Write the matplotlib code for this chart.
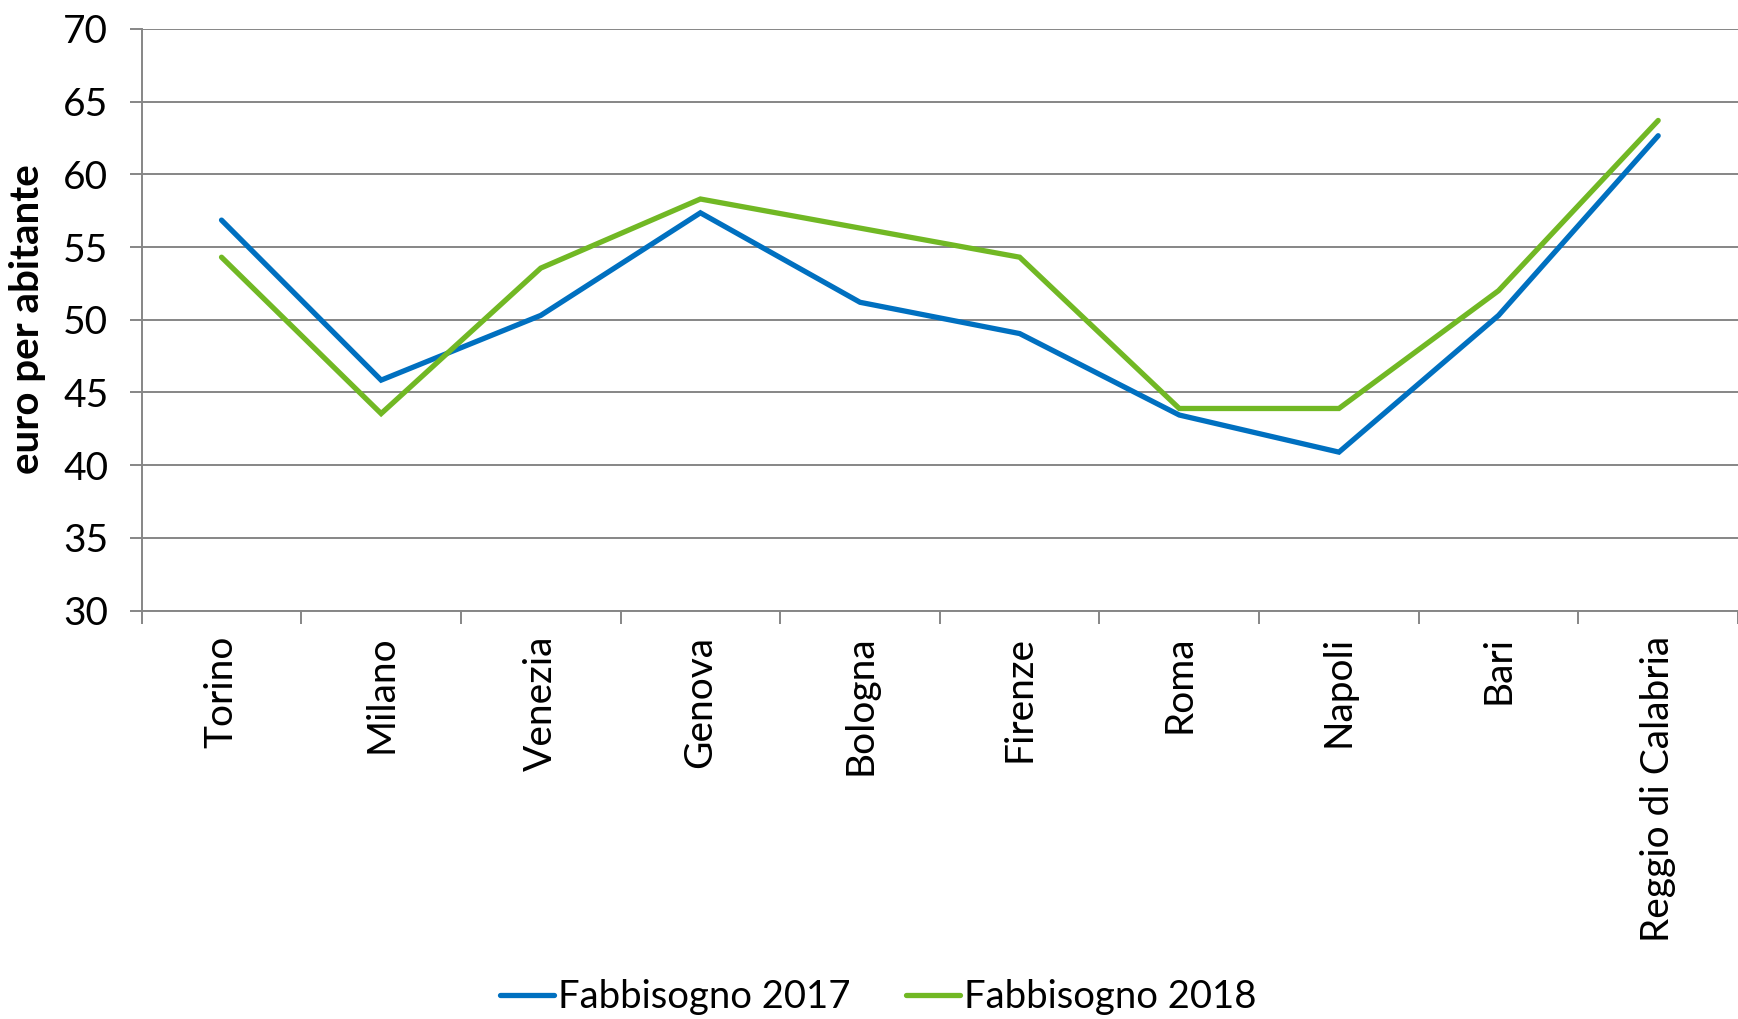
import matplotlib
matplotlib.use("Agg")
import matplotlib.pyplot as plt
import numpy as np

categories = ["Torino", "Milano", "Venezia", "Genova", "Bologna", "Firenze",
              "Roma", "Napoli", "Bari", "Reggio di Calabria"]
fabb_2017 = [56.85, 45.85, 50.3, 57.35, 51.2, 49.05, 43.45, 40.9, 50.3, 62.65]
fabb_2018 = [54.3, 43.55, 53.55, 58.3, 56.3, 54.3, 43.9, 43.9, 52.0, 63.7]
y_ticks = [30, 35, 40, 45, 50, 55, 60, 65, 70]

plt.rcParams['font.family'] = ['Lato', 'DejaVu Sans']

W, H = 1738, 1019
fig = plt.figure(figsize=(W / 100, H / 100), dpi=100)
left, right = 141.7 / W, 1.0
bottom, top = 1 - 610.7 / H, 1 - 28.8 / H
ax = fig.add_axes([left, bottom, right - left, top - bottom])

grid_c = "#868686"
x = np.arange(len(categories))
l1, = ax.plot(x, fabb_2017, color="#0070C0", lw=3.8, solid_capstyle="round",
              solid_joinstyle="miter", label="Fabbisogno 2017", zorder=3)
l2, = ax.plot(x, fabb_2018, color="#71B824", lw=3.8, solid_capstyle="round",
              solid_joinstyle="miter", label="Fabbisogno 2018", zorder=3)

ax.set_ylim(30, 70)
ax.set_xlim(-0.5, -0.5 + (W - 141.7) / 160.8)
ax.set_yticks(y_ticks)
ax.set_yticklabels([str(v) for v in y_ticks], fontsize=28)
ax.yaxis.grid(True, color=grid_c, lw=1.4)
ax.set_axisbelow(True)

ax.set_xticks(np.arange(len(categories) + 1) - 0.5, minor=False)
ax.set_xticklabels([])
ax.set_xticks(x, minor=True)
ax.set_xticklabels(categories, minor=True, rotation=90, fontsize=28, va="top")
ax.tick_params(axis="x", which="minor", length=0, pad=18)
ax.tick_params(axis="x", which="major", length=9, width=1.4, color=grid_c)
ax.tick_params(axis="y", length=9, width=1.4, color=grid_c, pad=15)

for s in ["top", "right"]:
    ax.spines[s].set_visible(False)
for s in ["left", "bottom"]:
    ax.spines[s].set_color(grid_c)
    ax.spines[s].set_linewidth(1.4)

fig.text(28 / W, 1 - 319 / H, "euro per abitante", rotation=90, fontsize=29,
         fontweight="bold", ha="center", va="center")

fig.legend(handles=[l1, l2], loc="center", bbox_to_anchor=(878 / W, 1 - 997 / H),
           ncol=2, frameon=False, fontsize=27.5, handlelength=1.42, handletextpad=0.1,
           columnspacing=1.45)

fig.savefig("out.png", dpi=100)
